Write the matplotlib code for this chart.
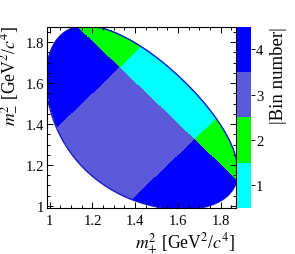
import numpy as np
import matplotlib
matplotlib.use("Agg")
import matplotlib.pyplot as plt
from matplotlib.colors import ListedColormap
from matplotlib.ticker import MultipleLocator

plt.rcParams['font.family'] = ['Liberation Serif', 'DejaVu Serif']
plt.rcParams['mathtext.fontset'] = 'stix'

# Physics: D0 -> K0S K+ K- Dalitz plot
M_D = 1.86484
M_KS = 0.497611
M_K = 0.493677

# Bin definition (s = m+^2 + m-^2, d = |m+^2 - m-^2|)
s_cut = 3.0
d_cut = 0.35
bin_numbers = [1, 2, 3, 4]
bin_colors = ['#00ffff', '#00ff00', '#5c5ad8', '#0000ff']

xlim = (0.99, 1.869)
ylim = (0.99, 1.876)
x_ticks = [1.0, 1.2, 1.4, 1.6, 1.8]
x_ticklabels = ['1', '1.2', '1.4', '1.6', '1.8']
y_ticks = [1.0, 1.2, 1.4, 1.6, 1.8]
y_ticklabels = ['1', '1.2', '1.4', '1.6', '1.8']


def m13_range(x):
    sx = np.sqrt(x)
    e1 = (x - M_K**2 + M_KS**2) / (2 * sx)
    e3 = (M_D**2 - x - M_K**2) / (2 * sx)
    p1 = np.sqrt(np.clip(e1**2 - M_KS**2, 0, None))
    p3 = np.sqrt(np.clip(e3**2 - M_K**2, 0, None))
    lo = (e1 + e3)**2 - (p1 + p3)**2
    hi = (e1 + e3)**2 - (p1 - p3)**2
    return lo, hi


W, H = 295, 255
fig = plt.figure(figsize=(W / 100, H / 100), dpi=100)
ax = fig.add_axes([47.5 / W, 1 - 209 / H, 188 / W, (209 - 27.7) / H])
cax = fig.add_axes([237 / W, 1 - 209 / H, 13.5 / W, (209 - 27.7) / H])

n = 1400
gx = np.linspace(xlim[0], xlim[1], n)
gy = np.linspace(ylim[0], ylim[1], n)
X, Y = np.meshgrid(gx, gy)
lo, hi = m13_range(X)
xmin_k = (M_KS + M_K)**2
xmax_k = (M_D - M_K)**2
inside = (X >= xmin_k) & (X <= xmax_k) & (Y >= lo) & (Y <= hi)
S = X + Y
D = np.abs(X - Y)
B = np.where(S < s_cut, np.where(D < d_cut, 3, 4), np.where(D < d_cut, 1, 2)).astype(float)
B = np.ma.masked_where(~inside, B)

cmap = ListedColormap(bin_colors)
im = ax.imshow(B, origin='lower', extent=[xlim[0], xlim[1], ylim[0], ylim[1]],
               cmap=cmap, vmin=0.5, vmax=4.5, interpolation='nearest', aspect='auto')

# Dalitz boundary
t = np.linspace(0, np.pi, 2000)
xb = xmin_k + (xmax_k - xmin_k) * (1 - np.cos(t)) / 2
blo, bhi = m13_range(xb)
bx = np.concatenate([xb, xb[::-1]])
by = np.concatenate([bhi, blo[::-1]])
ax.plot(bx, by, color='#1414d2', lw=1.0)

ax.set_xlim(*xlim)
ax.set_ylim(*ylim)
ax.set_xticks(x_ticks)
ax.set_xticklabels(x_ticklabels)
ax.set_yticks(y_ticks)
ax.set_yticklabels(y_ticklabels)
ax.xaxis.set_minor_locator(MultipleLocator(0.05))
ax.yaxis.set_minor_locator(MultipleLocator(0.05))
ax.tick_params(which='both', direction='in', top=True, right=True, labelsize=10.5, width=0.7)
ax.tick_params(which='major', length=4.0)
ax.tick_params(which='minor', length=2.0)
ax.tick_params(axis='x', pad=4)
ax.tick_params(axis='y', pad=2.5)
for sp in ax.spines.values():
    sp.set_linewidth(0.8)

ax.set_xlabel(r'$m_{+}^{2}$ [GeV$^{2}$/$c^{4}$]', fontsize=12.7, loc='right')
ax.set_ylabel(r'$m_{-}^{2}$ [GeV$^{2}$/$c^{4}$]', fontsize=12.7, loc='top')
ax.xaxis.set_label_coords(1.0, -0.12)
ax.yaxis.set_label_coords(-0.145, 1.01)

cb = fig.colorbar(im, cax=cax, ticks=bin_numbers)
cb.outline.set_visible(False)
cax.tick_params(direction='out', length=3, width=0.7, labelsize=10.5, pad=1)
cb.set_label('|Bin number|', fontsize=13.5, loc='top')
cax.yaxis.set_label_coords(2.45, 1.0)

fig.savefig('out.png', dpi=100)
